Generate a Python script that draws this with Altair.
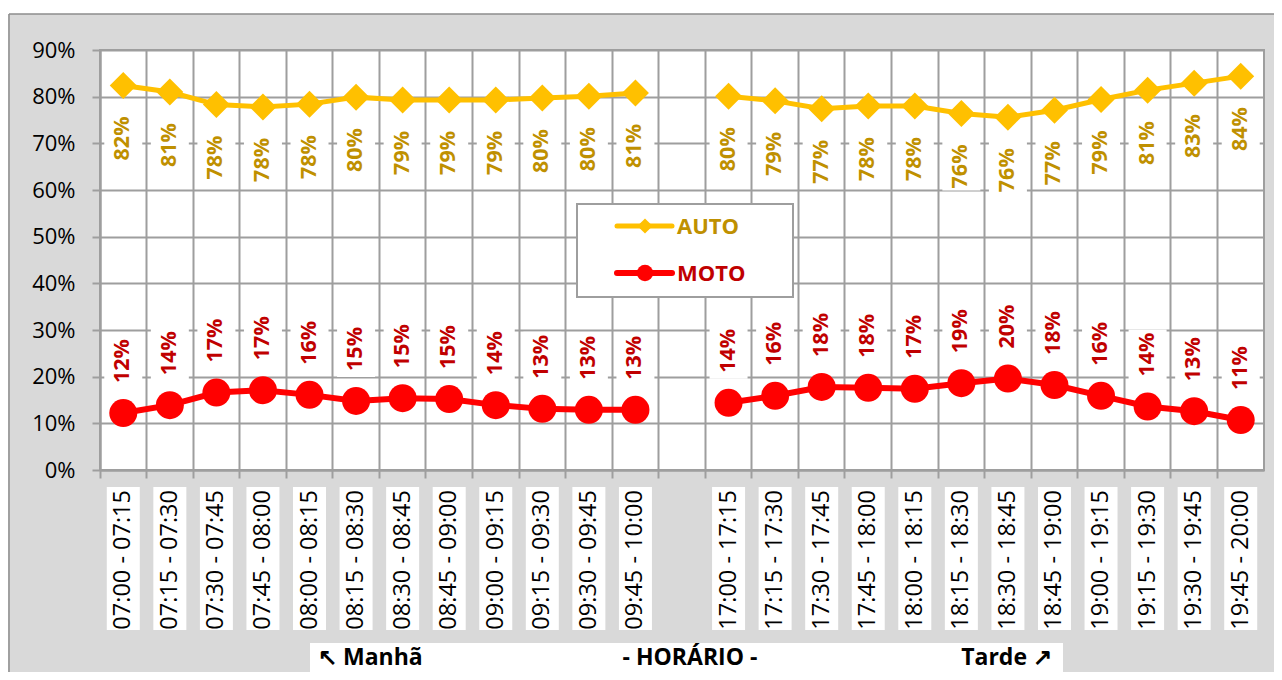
import altair as alt
import pandas as pd

# ---------------- data ----------------
manha = ["07:00 - 07:15", "07:15 - 07:30", "07:30 - 07:45", "07:45 - 08:00",
         "08:00 - 08:15", "08:15 - 08:30", "08:30 - 08:45", "08:45 - 09:00",
         "09:00 - 09:15", "09:15 - 09:30", "09:30 - 09:45", "09:45 - 10:00"]
tarde = ["17:00 - 17:15", "17:15 - 17:30", "17:30 - 17:45", "17:45 - 18:00",
         "18:00 - 18:15", "18:15 - 18:30", "18:30 - 18:45", "18:45 - 19:00",
         "19:00 - 19:15", "19:15 - 19:30", "19:30 - 19:45", "19:45 - 20:00"]
lacuna = " "
categorias = manha + [lacuna] + tarde

auto_manha = [82.4, 81.0, 78.3, 77.8, 78.4, 79.9, 79.3, 79.3, 79.3, 79.7, 80.1, 80.8]
auto_tarde = [80.1, 79.1, 77.4, 78.0, 78.0, 76.4, 75.6, 77.1, 79.4, 81.4, 82.9, 84.4]
moto_manha = [12.2, 13.9, 16.6, 17.1, 16.1, 14.8, 15.4, 15.2, 13.9, 13.1, 12.9, 12.9]
moto_tarde = [14.4, 15.9, 17.8, 17.6, 17.4, 18.6, 19.6, 18.2, 15.9, 13.6, 12.6, 10.7]

series = ["AUTO", "MOTO"]
cores_linha = ["#FFC000", "#FF0000"]
cores_rotulo = ["#BF9000", "#C00000"]
y_ticks = [0, 10, 20, 30, 40, 50, 60, 70, 80, 90]

titulo_esq = "\u2196 Manh\u00e3"
titulo_meio = "- HOR\u00c1RIO -"
titulo_dir = "Tarde \u2197"

# ---------------- tables ----------------
rows = []
for serie, vm, vt in [("AUTO", auto_manha, auto_tarde), ("MOTO", moto_manha, moto_tarde)]:
    for h, v in zip(manha, vm):
        rows.append({"horario": h, "periodo": "manha", "serie": serie, "valor": v / 100})
    for h, v in zip(tarde, vt):
        rows.append({"horario": h, "periodo": "tarde", "serie": serie, "valor": v / 100})
df = pd.DataFrame(rows)
df_auto = df[df.serie == "AUTO"]
df_moto = df[df.serie == "MOTO"]
df_cat = pd.DataFrame({"horario": manha + tarde})

GRID = "#9e9e9e"
FONT = "Open Sans"
W, H = 1164, 420

xscale = alt.Scale(domain=categorias, paddingInner=0, paddingOuter=0)
yscale = alt.Scale(domain=[0, 0.9], nice=False, zero=True)
xaxis = alt.Axis(labels=False, title=None, bandPosition=0, grid=True, ticks=True,
                 tickSize=8, tickColor=GRID, tickWidth=2, gridColor=GRID, gridWidth=2,
                 domainColor=GRID, domainWidth=2)
yaxis = alt.Axis(format=".0%", values=[t / 100 for t in y_ticks], title=None,
                 labelFontSize=22, labelColor="#000000", labelFont=FONT, labelPadding=17,
                 tickSize=8, tickColor=GRID, tickWidth=2, gridColor=GRID, gridWidth=2,
                 domainColor=GRID, domainWidth=2)


def X(field="horario:N"):
    return alt.X(field, scale=xscale, axis=xaxis, sort=None)


def Y(field):
    return alt.Y(field, scale=yscale, axis=yaxis)


one = pd.DataFrame({"k": [0]})

# decoration: outer frame
top_strip = alt.Chart(one).mark_rect(color="white").encode(
    x=alt.value(-92), x2=alt.value(W + 10), y=alt.value(-42), y2=alt.value(-36))
frame_top = alt.Chart(one).mark_rule(color="#8c8c8c", strokeWidth=1.5).encode(
    x=alt.value(-91), x2=alt.value(W + 10), y=alt.value(-36))
frame_left = alt.Chart(one).mark_rule(color="#8c8c8c", strokeWidth=1.5).encode(
    x=alt.value(-91), y=alt.value(-36), y2=alt.value(622))

# white boxes behind data labels
boxes = alt.Chart(df).transform_calculate(
    b1="datum.serie == 'AUTO' ? datum.valor - 0.0514 : datum.valor + 0.0514",
    b2="datum.serie == 'AUTO' ? datum.valor - 0.165 : datum.valor + 0.165",
).mark_bar(color="white", width=38).encode(x=X(), y=Y("b1:Q"), y2="b2:Q")

# x labels with white boxes
xbox = alt.Chart(df_cat).mark_bar(color="white", width=33).encode(
    x=X(), y=alt.value(437), y2=alt.value(580))
xlab = alt.Chart(df_cat).mark_text(angle=270, align="right", baseline="middle",
                                   fontSize=23.5, font=FONT, color="#000000").encode(
    x=X(), y=alt.value(440), text="horario:N")

layers = [top_strip, frame_top, frame_left, boxes, xbox, xlab]

shapes = ["diamond", "circle"]
sizes = [729, 784]
widths = [5, 6]
for i, (serie, d) in enumerate([("AUTO", df_auto), ("MOTO", df_moto)]):
    line = alt.Chart(d).mark_line(color=cores_linha[i], strokeWidth=widths[i]).encode(
        x=X(), y=Y("valor:Q"), detail="periodo:N")
    pts = alt.Chart(d).mark_point(shape=shapes[i], filled=True, opacity=1,
                                  color=cores_linha[i], size=sizes[i]).encode(
        x=X(), y=Y("valor:Q"))
    lab = alt.Chart(d).mark_text(angle=270, align="right" if serie == "AUTO" else "left",
                                 baseline="middle", dx=-31 if serie == "AUTO" else 30,
                                 fontSize=21.5, fontWeight="bold", font=FONT,
                                 color=cores_rotulo[i]).encode(
        x=X(), y=Y("valor:Q"), text=alt.Text("valor:Q", format=".0%"))
    layers += [line, pts, lab]

# legend (manual)
leg_box = alt.Chart(one).mark_rect(fill="white", stroke=GRID, strokeWidth=2).encode(
    x=alt.value(477), x2=alt.value(693), y=alt.value(154), y2=alt.value(247))
layers.append(leg_box)
for i, (serie, ly) in enumerate(zip(series, [176, 223])):
    layers.append(alt.Chart(one).mark_rule(color=cores_linha[i], strokeWidth=widths[i],
                                           strokeCap="round").encode(
        x=alt.value(517), x2=alt.value(572), y=alt.value(ly)))
    layers.append(alt.Chart(one).mark_point(shape=shapes[i], filled=True, opacity=1,
                                            color=cores_linha[i],
                                            size=[230, 270][i]).encode(
        x=alt.value(545), y=alt.value(ly)))
    layers.append(alt.Chart(one).mark_text(align="left", baseline="middle", fontSize=22,
                                           fontWeight="bold", font=FONT,
                                           color=cores_rotulo[i]).encode(
        x=alt.value(577), y=alt.value(ly + 1), text=alt.value(serie)))

# bottom title box
layers.append(alt.Chart(one).mark_rect(color="white").encode(
    x=alt.value(210), x2=alt.value(963), y=alt.value(593), y2=alt.value(622)))
for txt, xx, al in [(titulo_esq, 218, "left"), (titulo_meio, 590, "center"),
                    (titulo_dir, 952, "right")]:
    layers.append(alt.Chart(one).mark_text(align=al, baseline="middle", fontSize=23,
                                           fontWeight="bold", font=FONT,
                                           color="#000000").encode(
        x=alt.value(xx), y=alt.value(608), text=alt.value(txt)))

chart = alt.layer(*layers).properties(
    width=W, height=H,
    padding={"left": 92, "top": 42, "right": 10, "bottom": 202},
    autosize="none",
).configure(background="#d9d9d9", font=FONT).configure_view(
    fill="white", stroke=GRID, strokeWidth=2)

chart.save("out.html", embed_options={"renderer": "svg", "actions": False})
